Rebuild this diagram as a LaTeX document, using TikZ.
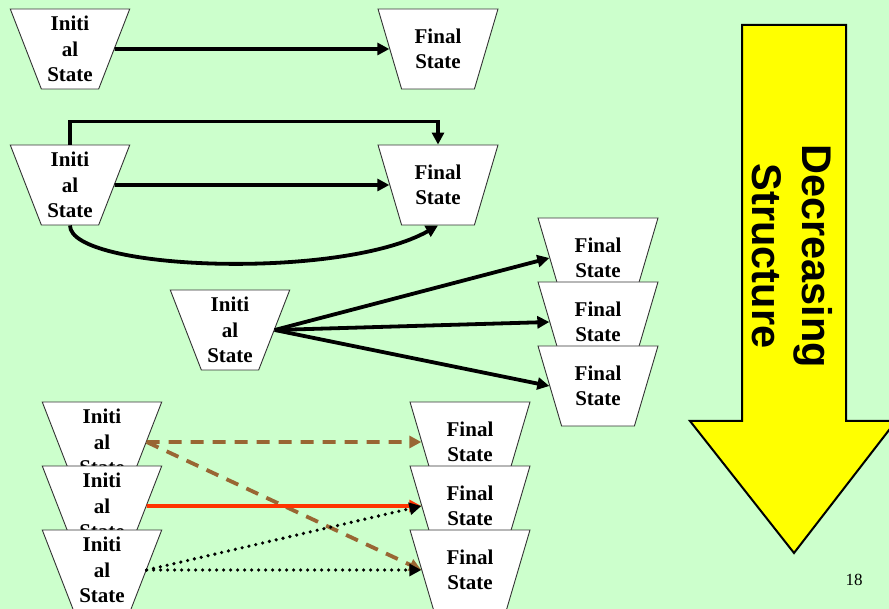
\documentclass[tikz,border=0pt]{standalone}
\usepackage{fontspec}
\setmainfont{Liberation Serif}
\newfontfamily\arrowfont{Liberation Sans}
\usetikzlibrary{shapes.geometric,arrows.meta}
\definecolor{slidebg}{HTML}{CCFFCC}
\definecolor{bandyellow}{HTML}{FFFF00}
\definecolor{linkbrown}{HTML}{996633}
\definecolor{linkred}{HTML}{FF3300}
\begin{document}
\begin{tikzpicture}[x=1pt,y=-1pt,
  statebox/.style={trapezium, trapezium left angle=110.56, trapezium right angle=110.56,
    trapezium stretches=true, minimum width=120pt, minimum height=80pt, inner sep=0pt,
    draw=black!80, line width=0.9pt, fill=white,
    font=\bfseries\fontsize{21}{25.5}\selectfont, align=center},
  tip/.style={-{Triangle[length=12pt,width=12pt]}},
  flow/.style={tip, line width=3.8pt, black},
  brownflow/.style={tip, line width=3.8pt, linkbrown, dash pattern=on 13pt off 9pt},
  redflow/.style={tip, line width=3.8pt, linkred},
  dotflow/.style={tip, line width=3.6pt, black, line cap=round, dash pattern=on 0pt off 7pt}]

% slide background
\fill[slidebg] (0,0) rectangle (889,609);
\useasboundingbox (0,0) rectangle (889,609);
\clip (0,0) rectangle (889,609);

% big yellow arrow on the right
\draw[fill=bandyellow, line width=2pt, line join=miter]
  (742,25) -- (846,25) -- (846,421) -- (896,421) -- (794,553) -- (690,421) -- (742,421) -- cycle;
\node[rotate=-90, align=center, font=\arrowfont\bfseries\fontsize{41.5}{50}\selectfont]
  (lbl) at (792,256) {Decreasing\\Structure};

% row 1: one to one
\node[statebox] (i1) at (70,49) {Initi\\al\\State};
\node[statebox] (f1) at (438,49) {Final\\State};
\draw[flow] (i1.east) -- (f1.west);

% row 2: several paths between the same two states
\node[statebox] (i2) at (70,185) {Initi\\al\\State};
\node[statebox] (f2) at (438,185) {Final\\State};
\draw[flow] (i2.north) -- ([yshift=23pt]i2.north) -| (f2.north);
\draw[flow] (i2.east) -- (f2.west);
\draw[flow] (i2.south) .. controls +(0,45) and +(-97,55) .. (f2.south);

% row 3: one to many
\node[statebox] (i3) at (230,330) {Initi\\al\\State};
\node[statebox] (f3a) at (598,258) {Final\\State};
\node[statebox] (f3b) at (598,322) {Final\\State};
\node[statebox] (f3c) at (598,386) {Final\\State};
\draw[flow] (i3.east) -- (f3a.west);
\draw[flow] (i3.east) -- (f3b.west);
\draw[flow] (i3.east) -- (f3c.west);

% row 4: many to many
\node[statebox] (i4a) at (102,442) {Initi\\al\\State};
\node[statebox] (i4b) at (102,506) {Initi\\al\\State};
\node[statebox] (i4c) at (102,570) {Initi\\al\\State};
\node[statebox] (f4a) at (470,442) {Final\\State};
\node[statebox] (f4b) at (470,506) {Final\\State};
\node[statebox] (f4c) at (470,570) {Final\\State};
\draw[brownflow] (i4a.east) -- (f4a.west);
\draw[brownflow] (i4a.east) -- (f4c.west);
\draw[redflow] (i4b.east) -- (f4b.west);
\draw[dotflow] (i4c.east) -- (f4b.west);
\draw[dotflow] (i4c.east) -- (f4c.west);

% page number
\node[font=\fontsize{17}{19}\selectfont] (pg) at (854,580) {18};
\end{tikzpicture}
\end{document}
